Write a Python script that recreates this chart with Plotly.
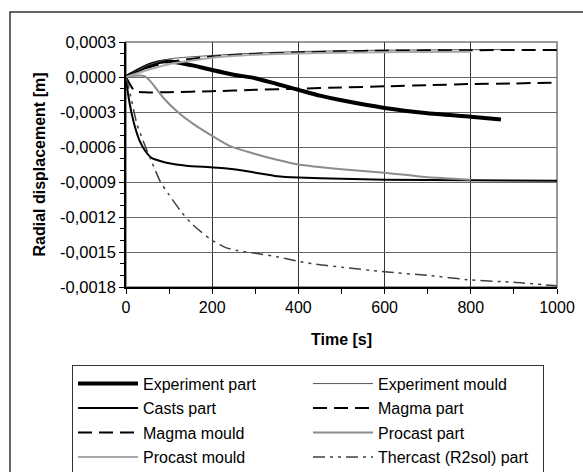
import plotly.graph_objects as go

# ---------------- data ----------------
exp_part_t = [0, 30, 60, 90, 120, 160, 200, 250, 300, 350, 400, 450, 500, 600, 700, 800, 870]
exp_part_v = [0, 0.00006, 0.00011, 0.000135, 0.000125, 0.000095, 0.00006, 0.00002, -0.00001,
              -0.00006, -0.00011, -0.00016, -0.0002, -0.000265, -0.00031, -0.00034, -0.000365]

exp_mould_t = [0, 50, 100, 200, 300, 400, 500, 600, 700, 800, 870]
exp_mould_v = [0, 0.0001, 0.000155, 0.000185, 0.000205, 0.000218, 0.000225, 0.00023, 0.000232,
               0.000234, 0.000235]

casts_part_t = [0, 5, 13, 21, 32, 44, 60, 100, 140, 200, 250, 300, 350, 400, 500, 600, 800, 1000]
casts_part_v = [0, -0.00015, -0.00031, -0.00043, -0.00055, -0.00063, -0.000695, -0.00074,
                -0.00076, -0.000775, -0.00079, -0.00082, -0.00085, -0.000862, -0.000872,
                -0.00088, -0.000885, -0.00089]

magma_part_t = [0, 20, 50, 100, 200, 300, 400, 500, 600, 700, 800, 900, 1000]
magma_part_v = [0, -0.00012, -0.000132, -0.00013, -0.000122, -0.00011, -0.0001, -0.00009,
                -0.00008, -0.00007, -0.00006, -0.000055, -0.000048]

magma_mould_t = [0, 50, 100, 200, 300, 400, 500, 600, 800, 1000]
magma_mould_v = [0, 0.00008, 0.00013, 0.000175, 0.000198, 0.00021, 0.00022, 0.000226, 0.00023,
                 0.000232]

procast_part_t = [0, 20, 40, 50, 63, 87, 120, 155, 200, 240, 300, 350, 400, 500, 600, 700, 800]
procast_part_v = [0, 0.00001, 0.00001, -0.00001, -0.000065, -0.00018, -0.0003, -0.0004, -0.000505,
                  -0.00059, -0.00066, -0.00071, -0.00075, -0.00079, -0.00082, -0.00086, -0.00088]

procast_mould_t = [0, 50, 100, 200, 300, 400, 500, 600, 700, 800]
procast_mould_v = [0, 0.00006, 0.00011, 0.000165, 0.00019, 0.000202, 0.000208, 0.000212,
                   0.000215, 0.000217]

thercast_part_t = [0, 10, 25, 40, 60, 80, 100, 125, 150, 175, 200, 230, 260, 300, 350, 400, 450,
                   500, 600, 700, 800, 900, 1000]
thercast_part_v = [0, -0.00015, -0.0004, -0.00055, -0.00073, -0.0009, -0.00101, -0.00114,
                   -0.00125, -0.00133, -0.0014, -0.00146, -0.00149, -0.00151, -0.00154, -0.00158,
                   -0.00161, -0.00163, -0.00167, -0.0017, -0.00174, -0.00176, -0.00179]

y_tick_vals = [0.0003, 0.0, -0.0003, -0.0006, -0.0009, -0.0012, -0.0015, -0.0018]
y_tick_text = ["0,0003", "0,0000", "-0,0003", "-0,0006", "-0,0009", "-0,0012", "-0,0015", "-0,0018"]
x_tick_vals = [0, 200, 400, 600, 800, 1000]
x_tick_text = ["0", "200", "400", "600", "800", "1000"]

# ---------------- figure ----------------
FONT = "Liberation Sans, Arial, sans-serif"
LEG_TEXT = '<span style="font-size:16px">{}</span>'

series = [
    ("Experiment part", exp_part_t, exp_part_v, dict(color="#000000", width=4)),
    ("Experiment mould", exp_mould_t, exp_mould_v, dict(color="#555555", width=1)),
    ("Casts part", casts_part_t, casts_part_v, dict(color="#000000", width=2)),
    ("Magma part", magma_part_t, magma_part_v, dict(color="#000000", width=2, dash="14px,7px")),
    ("Magma mould", magma_mould_t, magma_mould_v, dict(color="#000000", width=2, dash="14px,7px")),
    ("Procast part", procast_part_t, procast_part_v, dict(color="#8c8c8c", width=2)),
    ("Procast mould", procast_mould_t, procast_mould_v, dict(color="#a8a8a8", width=2)),
    ("Thercast (R2sol) part", thercast_part_t, thercast_part_v,
     dict(color="#404040", width=1.5, dash="12px,5px,3px,5px,3px,5px")),
]

fig = go.Figure()
for name, t, v, line in series:
    fig.add_trace(go.Scatter(x=t, y=v, name=LEG_TEXT.format(name), mode="lines",
                             line=dict(shape="spline", smoothing=0.5, **line)))

W, H = 583, 472
L, R, T, B = 126, 26, 42, 184.5
pw, ph = W - L - R, H - T - B

def px_x(p):
    return (p - L) / pw

def px_y(p):
    return (H - B - p) / ph

fig.update_layout(
    width=W, height=H,
    margin=dict(l=L, r=R, t=T, b=B, autoexpand=False),
    paper_bgcolor="white", plot_bgcolor="white",
    font=dict(family=FONT, size=16, color="black"),
    showlegend=True,
    legend=dict(
        orientation="h", x=px_x(72), y=px_y(366), xanchor="left", yanchor="top",
        entrywidth=160, entrywidthmode="pixels", itemwidth=60,
        bordercolor="#333333", borderwidth=1, bgcolor="white",
        font=dict(family=FONT, size=16.5, color="black"),
        traceorder="normal",
    ),
    xaxis=dict(
        range=[0, 1000], tickmode="array", tickvals=x_tick_vals, ticktext=x_tick_text,
        ticks="outside", ticklen=5, tickcolor="black", tickwidth=1,
        minor=dict(dtick=100, tick0=0, ticks="outside", ticklen=5, tickcolor="black", showgrid=False),
        showgrid=True, gridcolor="#333333", gridwidth=1,
        showline=True, linecolor="black", linewidth=1.5, zeroline=False,
        tickfont=dict(family=FONT, size=16),
        title=dict(text="Time [s]", standoff=19,
                   font=dict(family=FONT, size=16, weight="bold")),
    ),
    yaxis=dict(
        range=[-0.0018, 0.0003], tickmode="array", tickvals=y_tick_vals, ticktext=y_tick_text,
        ticks="outside", ticklen=5, tickcolor="black", tickwidth=1,
        minor=dict(dtick=0.0001, tick0=0, ticks="outside", ticklen=4, tickcolor="black", showgrid=False),
        showgrid=True, gridcolor="#666666", gridwidth=1,
        showline=True, linecolor="black", linewidth=1.5, zeroline=False,
        tickfont=dict(family=FONT, size=16.5),
        title=dict(text="Radial displacement [m]", standoff=10,
                   font=dict(family=FONT, size=16, weight="bold")),
    ),
    shapes=[
        # grey plot-area border (top/right visible)
        dict(type="rect", xref="paper", yref="paper", x0=0, x1=1, y0=0, y1=1,
             line=dict(color="#999999", width=2), layer="below"),
        # outer chart frame (right and bottom edges run past the picture)
        dict(type="rect", xref="paper", yref="paper",
             x0=px_x(10), x1=px_x(595), y0=px_y(490), y1=px_y(12),
             line=dict(color="#333333", width=1.5), layer="below"),
    ],
)

fig.write_html(
    "out.html",
    config={"displayModeBar": False},
    post_script="document.body.style.margin='0';document.body.style.overflow='hidden';",
)
